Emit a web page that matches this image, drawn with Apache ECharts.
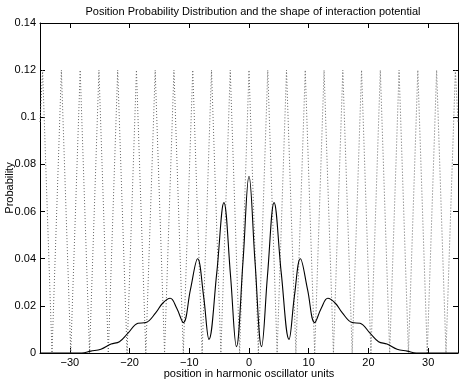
<!DOCTYPE html>
<html>
<head>
<meta charset="utf-8">
<script src="https://cdn.jsdelivr.net/npm/echarts@6/dist/echarts.min.js"></script>
<style>html,body{margin:0;padding:0;background:#fff}#c{width:461px;height:382px}</style>
</head>
<body>
<div id="c"></div>
<script>
var titleText = 'Position Probability Distribution and the shape of interaction potential';
var xAxisName = 'position in harmonic oscillator units';
var yAxisName = 'Probability';
var xTicks = [-30, -20, -10, 0, 10, 20, 30];
var yTicks = [0, 0.02, 0.04, 0.06, 0.08, 0.1, 0.12, 0.14];

// probability distribution (solid)
var probX = [-35, -30, -28, -26.5, -24.8, -23.1, -21.7, -20.3, -18.6, -17.3, -15.6, -14.5, -13.2, -12.1, -11.0, -9.8, -8.6, -7.6, -6.7, -5.4, -4.2, -3.1, -2.1, -1.0, 0,
             1.0, 2.1, 3.1, 4.2, 5.4, 6.7, 7.6, 8.6, 9.8, 11.0, 12.1, 13.2, 14.5, 15.6, 17.3, 18.6, 20.3, 21.7, 23.1, 24.8, 26.5, 28, 30, 35];
var probY = [0, 0, 0, 0.0008, 0.0016, 0.0038, 0.0048, 0.0083, 0.0126, 0.0129, 0.0171, 0.021, 0.0232, 0.019, 0.0129, 0.027, 0.040, 0.024, 0.0058, 0.034, 0.0638, 0.033, 0.0027, 0.039, 0.075,
             0.039, 0.0027, 0.033, 0.0638, 0.034, 0.0058, 0.024, 0.040, 0.027, 0.0129, 0.019, 0.0232, 0.021, 0.0171, 0.0129, 0.0126, 0.0083, 0.0048, 0.0038, 0.0016, 0.0008, 0, 0, 0];

// interaction potential (dotted): peaks and troughs
var potX = [-35, -34.56, -32.99, -31.42, -29.85, -28.27, -26.7, -25.13, -23.56, -21.99, -20.42,
            -18.85, -17.28, -15.71, -14.14, -12.57, -11, -9.42, -7.85, -6.28, -4.71,
            -3.14, -1.57, 0, 1.57, 3.14, 4.71, 6.28, 7.85, 9.42, 11,
            12.57, 14.14, 15.71, 17.28, 18.85, 20.42, 21.99, 23.56, 25.13, 26.7,
            28.27, 29.85, 31.42, 32.99, 34.56, 35];
var potY = [0.098,
  0.12, 0, 0.12, 0, 0.12, 0, 0.12, 0, 0.12, 0,
  0.12, 0, 0.12, 0, 0.12, 0, 0.12, 0, 0.12, 0,
  0.12, 0, 0.12, 0, 0.12, 0, 0.12, 0, 0.12, 0,
  0.12, 0, 0.12, 0, 0.12, 0, 0.12, 0, 0.12, 0,
  0.12, 0, 0.12, 0, 0.12, 0.098];

function zip(a, b) { return a.map(function (v, i) { return [v, b[i]]; }); }

var FONT = '"Liberation Sans", Arial, Helvetica, sans-serif';
var chart = echarts.init(document.getElementById('c'), null, {renderer: 'canvas'});
var axisCommonX = {
  type: 'value', min: -35, max: 35,
  axisLine: {show: true, onZero: false, lineStyle: {color: '#000', width: 1}},
  axisTick: {show: true, inside: true, length: 5, customValues: xTicks, lineStyle: {color: '#000'}},
  splitLine: {show: false}
};
var axisCommonY = {
  type: 'value', min: 0, max: 0.14,
  axisLine: {show: true, onZero: false, lineStyle: {color: '#000', width: 1}},
  axisTick: {show: true, inside: true, length: 5, customValues: yTicks, lineStyle: {color: '#000'}},
  splitLine: {show: false}
};
chart.setOption({
  animation: false,
  backgroundColor: '#fff',
  title: {
    text: titleText, left: 248, top: 1, textAlign: 'center',
    textStyle: {fontFamily: FONT, fontSize: 11, fontWeight: 'normal', color: '#000'}
  },
  grid: {left: 40, right: 3, top: 23, bottom: 29, containLabel: false, outerBoundsMode: 'none'},
  xAxis: [
    Object.assign({}, axisCommonX, {
      position: 'bottom',
      name: xAxisName, nameLocation: 'middle', nameGap: 15, nameMoveOverlap: false,
      nameTextStyle: {fontFamily: FONT, fontSize: 11, color: '#000'},
      axisLabel: {show: true, customValues: xTicks, margin: 4, fontFamily: FONT, fontSize: 11, color: '#000',
        formatter: function (v) { return v < 0 ? '\u2212' + Math.abs(v) : String(v); }}
    }),
    Object.assign({}, axisCommonX, {position: 'top', axisLabel: {show: false}})
  ],
  yAxis: [
    Object.assign({}, axisCommonY, {
      position: 'left',
      name: yAxisName, nameLocation: 'middle', nameGap: 25, nameRotate: 90, nameMoveOverlap: false,
      nameTextStyle: {fontFamily: FONT, fontSize: 11, color: '#000'},
      axisLabel: {show: true, customValues: yTicks, margin: 4, fontFamily: FONT, fontSize: 11, color: '#000',
        formatter: function (v) { return String(Math.round(v * 100) / 100); }}
    }),
    Object.assign({}, axisCommonY, {position: 'right', axisLabel: {show: false}})
  ],
  series: [
    {
      type: 'line', name: 'potential', data: zip(potX, potY), smooth: false,
      showSymbol: false, clip: true,
      lineStyle: {color: '#666', width: 1, type: [1, 2]}
    },
    {
      type: 'line', name: 'probability', data: zip(probX, probY), smooth: 0.4,
      showSymbol: false, clip: true,
      lineStyle: {color: '#000', width: 1.1}
    }
  ]
});
</script>
</body>
</html>
